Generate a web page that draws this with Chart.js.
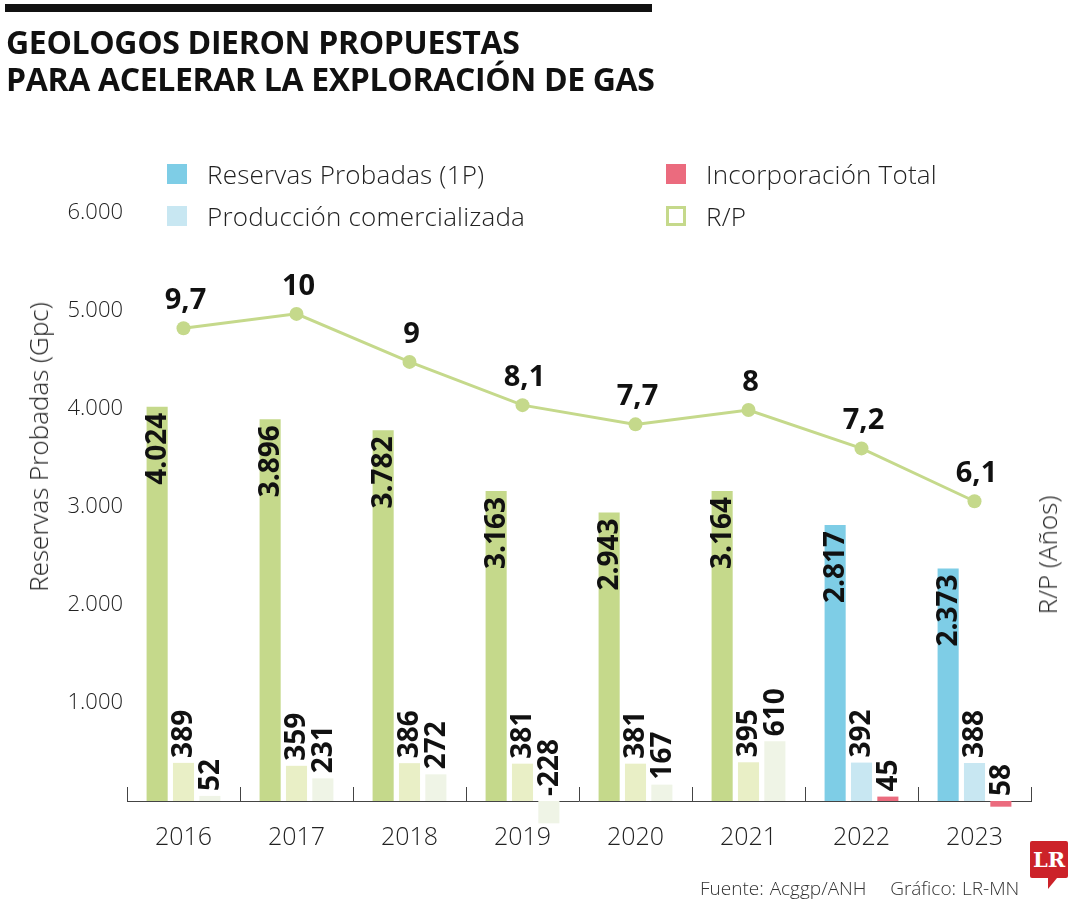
<!DOCTYPE html>
<html>
<head>
<meta charset="utf-8">
<script src="https://cdn.jsdelivr.net/npm/chart.js@4/dist/chart.umd.min.js"></script>
<style>
  html, body { margin: 0; padding: 0; background: #fff; }
  body { width: 1080px; height: 900px; position: relative; overflow: hidden; font-family: 'Open Sans', sans-serif; color: #222; }
  #wrap { position: absolute; left: 0; top: 0; width: 1080px; height: 900px; }
  .bar-top { position: absolute; left: 5px; top: 4px; width: 647px; height: 8px; background: #111; }
  h1 { position: absolute; left: 6px; top: 23px; margin: 0; font-size: 32px; line-height: 37px; font-weight: 700; color: #111; letter-spacing: -0.35px; }
  .legend { position: absolute; font-size: 26px; font-weight: 300; color: #222; white-space: nowrap; letter-spacing: 0.2px; }
  .legend i { position: absolute; left: 0; top: 50%; width: 20px; height: 20px; margin-top: -10px; box-sizing: border-box; }
  .legend span { padding-left: 40px; }
  .axis-title { position: absolute; font-size: 26px; font-weight: 300; color: #222; white-space: nowrap; transform: translate(-50%, -50%) rotate(-90deg); }
  .foot { position: absolute; left: 700px; top: 875px; font-size: 19px; color: #333; font-weight: 300; word-spacing: 1px; }
  .logo { position: absolute; left: 1030px; top: 841px; width: 38px; height: 37px; background: #cc2229; color: #fff; font: bold 21px 'DejaVu Serif', serif; text-align: center; line-height: 37px; border-radius: 2px; }
  .logo:after { content: ''; position: absolute; left: 18px; top: 37px; border-left: 0 solid transparent; border-right: 9px solid transparent; border-top: 11px solid #cc2229; }
</style>
</head>
<body>
<div id="wrap"><canvas id="gasChart" width="1080" height="900"></canvas></div>
<div class="bar-top"></div>
<h1>GEOLOGOS DIERON PROPUESTAS<br>PARA ACELERAR LA EXPLORACIÓN DE GAS</h1>

<div class="legend" style="left:167px; top:156px;"><i style="background:#7ecde6"></i><span>Reservas Probadas (1P)</span></div>
<div class="legend" style="left:666px; top:156px;"><i style="background:#eb6b7e"></i><span>Incorporación Total</span></div>
<div class="legend" style="left:167px; top:198px;"><i style="background:#c8e7f2"></i><span>Producción comercializada</span></div>
<div class="legend" style="left:666px; top:198px;"><i style="border:3px solid #c5d98b"></i><span>R/P</span></div>

<div class="axis-title" style="left:38px; top:447px;">Reservas Probadas (Gpc)</div>
<div class="axis-title" style="left:1047px; top:555px;">R/P (Años)</div>

<div class="foot">Fuente: Acggp/ANH &nbsp;&nbsp; Gráfico: LR-MN</div>
<div class="logo">LR</div>

<script>
// Reservas de gas, producción, incorporación y relación R/P (2016-2023)

const years       = ['2016', '2017', '2018', '2019', '2020', '2021', '2022', '2023'];
const reservas    = [4024, 3896, 3782, 3163, 2943, 3164, 2817, 2373];
const produccion  = [389, 359, 386, 381, 381, 395, 392, 388];
const incorporacion = [52, 231, 272, -228, 167, 610, 45, -58];
const incorpText  = ['52', '231', '272', '-228', '167', '610', '45', '58'];
const rp          = [9.7, 10, 9, 8.1, 7.7, 8, 7.2, 6.1];
const yTicks      = [0, 1000, 2000, 3000, 4000, 5000, 6000];

// a partir de 2022 las barras cambian a la paleta azul/rosa
const NEW_FROM = '2022';
const isNew = i => years[i] >= NEW_FROM;

const GREEN = '#c5d98b', BLUE = '#7ecde6';
const GREEN_L = '#e9efc6', BLUE_L = '#c8e7f2';
const GREEN_XL = '#eff4e6', PINK = '#eb6b7e';

const thousands = v => String(v).replace(/\B(?=(\d{3})+(?!\d))/g, '.');

const valueLabels = {
    id: 'valueLabels',
    afterDatasetsDraw(chart) {
        const ctx = chart.ctx;
        ctx.save();
        ctx.fillStyle = '#111';
        chart.data.datasets.forEach((ds, di) => {
            const meta = chart.getDatasetMeta(di);
            meta.data.forEach((el, i) => {
                if (ds.type === 'line') {
                    ctx.font = 'bold 29px "Open Sans"';
                    ctx.textAlign = 'center';
                    ctx.textBaseline = 'alphabetic';
                    ctx.fillText(String(ds.data[i]).replace('.', ','), el.x + 2, el.y - 19);
                    return;
                }
                ctx.save();
                ctx.font = 'bold 28px "Open Sans"';
                ctx.textBaseline = 'middle';
                if (ds.key === 'reservas') {
                    ctx.translate(el.x + 1, el.y + 6);
                    ctx.rotate(-Math.PI / 2);
                    ctx.textAlign = 'right';
                    ctx.fillText(thousands(ds.data[i]), 0, 0);
                } else {
                    const txt = ds.key === 'incorp' ? incorpText[i] : String(ds.data[i]);
                    ctx.translate(el.x + 1, Math.min(el.y, el.base) - 5);
                    ctx.rotate(-Math.PI / 2);
                    ctx.textAlign = 'left';
                    ctx.fillText(txt, 0, 0);
                }
                ctx.restore();
            });
        });
        ctx.restore();
    }
};

// pequeñas marcas verticales entre categorías, hacia arriba
const catTicks = {
    id: 'catTicks',
    afterDraw(chart) {
        const x = chart.scales.x, ctx = chart.ctx;
        const bottom = chart.chartArea.bottom;
        ctx.save();
        ctx.strokeStyle = '#444';
        ctx.lineWidth = 1;
        for (let i = 0; i <= years.length; i++) {
            const px = Math.round(x.getPixelForValue(i - 0.5)) + 0.5;
            ctx.beginPath();
            ctx.moveTo(px, bottom);
            ctx.lineTo(px, bottom - 14);
            ctx.stroke();
        }
        ctx.restore();
    }
};

new Chart(document.getElementById('gasChart').getContext('2d'), {
    data: {
        labels: years,
        datasets: [
            { type: 'line', label: 'R/P', data: rp, yAxisID: 'y1', order: 0,
              borderColor: GREEN, backgroundColor: GREEN, pointBackgroundColor: GREEN,
              pointBorderWidth: 0, borderWidth: 3, pointRadius: 7, tension: 0 },
            { type: 'bar', key: 'reservas', label: 'Reservas Probadas (1P)', data: reservas, order: 1,
              backgroundColor: reservas.map((_, i) => isNew(i) ? BLUE : GREEN) },
            { type: 'bar', key: 'prod', label: 'Producción comercializada', data: produccion, order: 1,
              backgroundColor: produccion.map((_, i) => isNew(i) ? BLUE_L : GREEN_L) },
            { type: 'bar', key: 'incorp', label: 'Incorporación Total', data: incorporacion, order: 1,
              backgroundColor: incorporacion.map((_, i) => isNew(i) ? PINK : GREEN_XL) }
        ]
    },
    options: {
        responsive: false, animation: false,
        layout: { padding: { top: 213, right: 49, bottom: 0, left: 0 } },
        plugins: { legend: { display: false }, tooltip: { enabled: false } },
        datasets: { bar: { categoryPercentage: 0.7, barPercentage: 0.8, clip: false } },
        scales: {
            x: {
                grid: { display: false, drawTicks: false },
                border: { display: true, color: '#444', width: 1 },
                ticks: { color: '#222', padding: 22, font: { family: 'Open Sans', size: 25, weight: 300 } },
                afterFit: s => { s.height = 99; }
            },
            y: {
                min: 0, max: 6000,
                afterBuildTicks: s => { s.ticks = yTicks.map(v => ({ value: v })); },
                grid: { display: false, drawTicks: false },
                border: { display: false },
                ticks: { color: '#222', padding: 4, font: { family: 'Open Sans', size: 22, weight: 300 },
                         callback: v => v === 0 ? '' : thousands(v) },
                afterFit: s => { s.width = 127; }
            },
            y1: { display: false, min: -0.14, max: 12.1 }
        }
    },
    plugins: [valueLabels, catTicks]
});
</script>
</body>
</html>
